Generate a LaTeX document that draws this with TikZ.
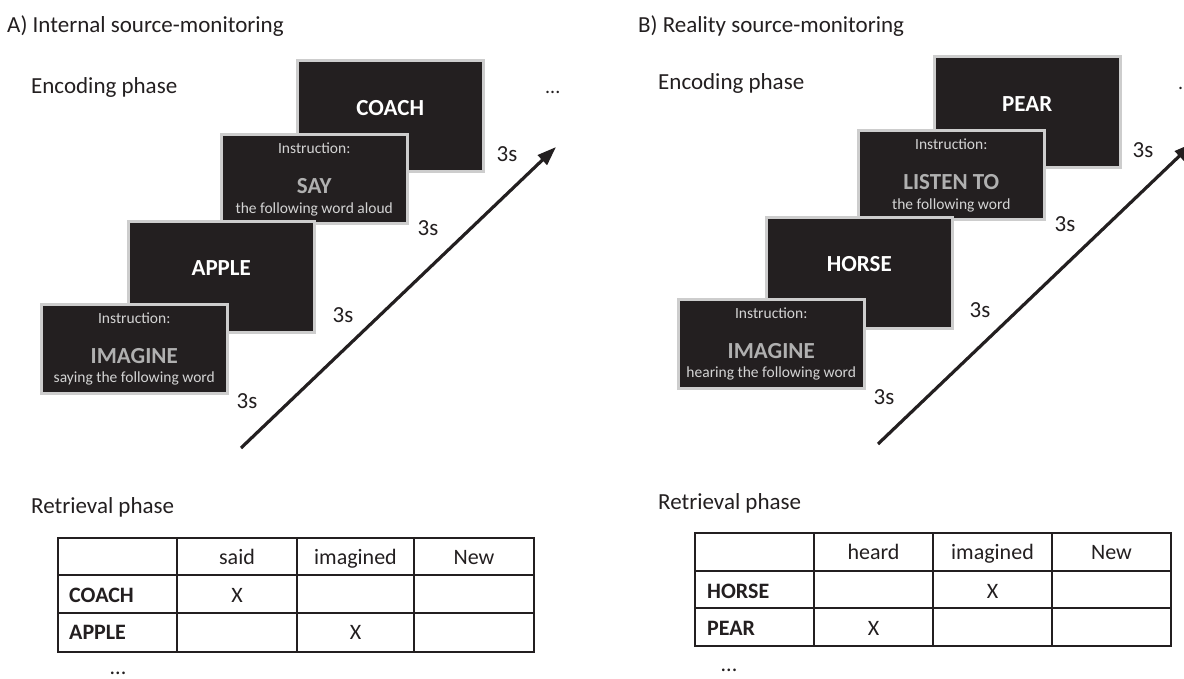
\documentclass[tikz,border=0pt]{standalone}
\usepackage{fontspec}
\setmainfont{Carlito}
\usetikzlibrary{arrows.meta}
\definecolor{ink}{HTML}{231F20}
\definecolor{boxfill}{HTML}{231F20}
\definecolor{boxedge}{RGB}{205,205,205}
\definecolor{instr}{RGB}{212,212,212}
\definecolor{verb}{RGB}{176,176,176}
\begin{document}
\begin{tikzpicture}[x=1pt,y=-1pt,
  every node/.style={inner sep=0pt, text=ink},
  font=\fontsize{23}{27}\selectfont,
  stimbox/.style={draw=boxedge, line width=2.5pt, fill=boxfill, rectangle, anchor=north west, minimum width=186pt},
  wordbox/.style={stimbox, minimum height=111pt},
  instrbox/.style={stimbox, minimum height=89pt},
  bigword/.style={anchor=base, font=\fontsize{23}{27}\selectfont\bfseries, text=white},
  verbword/.style={bigword, text=verb},
  instrtxt/.style={anchor=base, font=\fontsize{15.5}{18}\selectfont, text=instr},
  lbl/.style={anchor=base west},
  dur/.style={anchor=base},
  timearrow/.style={draw=ink, line width=3.2pt, -{Triangle[length=19pt,width=13pt]}},
  tabline/.style={draw=ink, line width=1.8pt},
  cell/.style={anchor=base, font=\fontsize{22}{26}\selectfont},
  rowhead/.style={anchor=base west, font=\fontsize{22}{26}\selectfont\bfseries}
]
\useasboundingbox (0,0) rectangle (1184,678);

% ---------------- Panel A ----------------
\node[lbl] (titleA) at (7,32) {A) Internal source-monitoring};
\node[lbl] (encA) at (31,93) {Encoding phase};
\node[lbl, font=\fontsize{20}{24}\selectfont] (dotsA) at (545,93) {...};

\node[wordbox] (coach) at (296,59) {};
\node[bigword] (coachw) at ([yshift=-56pt]coach.north) {COACH};

\node[instrbox] (say) at (220,133) {};
\node[instrtxt] (sayi) at ([yshift=-20pt]say.north) {Instruction:};
\node[verbword] (sayv) at ([yshift=-60pt]say.north) {SAY};
\node[instrtxt] (says) at ([yshift=-80pt]say.north) {the following word aloud};

\node[wordbox] (apple) at (127,220) {};
\node[bigword] (applew) at ([yshift=-55pt]apple.north) {APPLE};

\node[instrbox] (imA) at (40,303) {};
\node[instrtxt] (imAi) at ([yshift=-20pt]imA.north) {Instruction:};
\node[verbword] (imAv) at ([yshift=-60pt]imA.north) {IMAGINE};
\node[instrtxt] (imAs) at ([yshift=-79pt]imA.north) {saying the following word};

\coordinate (arAs) at (241,448);
\coordinate (arAe) at (556,147);
\draw[timearrow] (arAs) -- (arAe);

\node[dur] (dA1) at (247,408) {3s};
\node[dur] (dA2) at (343,322) {3s};
\node[dur] (dA3) at (428,235) {3s};
\node[dur] (dA4) at (507,161) {3s};

\node[lbl] (retA) at (31,513) {Retrieval phase};
\draw[tabline] (58,538) rectangle (534,652);
\foreach \xx in {177,297,414} \draw[tabline] (\xx,538) -- (\xx,652);
\foreach \yy in {575,613} \draw[tabline] (58,\yy) -- (534,\yy);
\node[cell] (hA1) at (237,564) {said};
\node[cell] (hA2) at (355.5,564) {imagined};
\node[cell] (hA3) at (474,564) {New};
\node[rowhead] (rA1) at (69,602) {COACH};
\node[rowhead] (rA2) at (69,639) {APPLE};
\node[cell] (xA1) at (237,602) {X};
\node[cell] (xA2) at (355.5,639) {X};
\node[cell] (eA) at (118,674) {...};

% ---------------- Panel B ----------------
\node[lbl] (titleB) at (638,32) {B) Reality source-monitoring};
\node[lbl] (encB) at (658,89) {Encoding phase};
\node[lbl, font=\fontsize{20}{24}\selectfont] (dotsB) at (1178,89) {...};

\node[wordbox] (pear) at (933,55) {};
\node[bigword] (pearw) at ([yshift=-56pt]pear.north) {PEAR};

\node[instrbox] (listen) at (857,129) {};
\node[instrtxt] (listeni) at ([yshift=-20pt]listen.north) {Instruction:};
\node[verbword] (listenv) at ([yshift=-60pt]listen.north) {LISTEN TO};
\node[instrtxt] (listens) at ([yshift=-80pt]listen.north) {the following word};

\node[wordbox] (horse) at (765,216) {};
\node[bigword] (horsew) at ([yshift=-55pt]horse.north) {HORSE};

\node[instrbox] (imB) at (677,298) {};
\node[instrtxt] (imBi) at ([yshift=-20pt]imB.north) {Instruction:};
\node[verbword] (imBv) at ([yshift=-60pt]imB.north) {IMAGINE};
\node[instrtxt] (imBs) at ([yshift=-79pt]imB.north) {hearing the following word};

\coordinate (arBs) at (878,444);
\coordinate (arBe) at (1193,143);
\draw[timearrow] (arBs) -- (arBe);

\node[dur] (dB1) at (884,404) {3s};
\node[dur] (dB2) at (980,317) {3s};
\node[dur] (dB3) at (1065,231) {3s};
\node[dur] (dB4) at (1143,157) {3s};

\node[lbl] (retB) at (658,509) {Retrieval phase};
\draw[tabline] (695,533) rectangle (1171,646);
\foreach \xx in {814,933,1052} \draw[tabline] (\xx,533) -- (\xx,646);
\foreach \yy in {571,608} \draw[tabline] (695,\yy) -- (1171,\yy);
\node[cell] (hB1) at (873.5,559) {heard};
\node[cell] (hB2) at (992.5,559) {imagined};
\node[cell] (hB3) at (1111.5,559) {New};
\node[rowhead] (rB1) at (707,598) {HORSE};
\node[rowhead] (rB2) at (707,635) {PEAR};
\node[cell] (xB1) at (992.5,598) {X};
\node[cell] (xB2) at (873.5,635) {X};
\node[cell] (eB) at (729,671) {...};
\end{tikzpicture}
\end{document}
